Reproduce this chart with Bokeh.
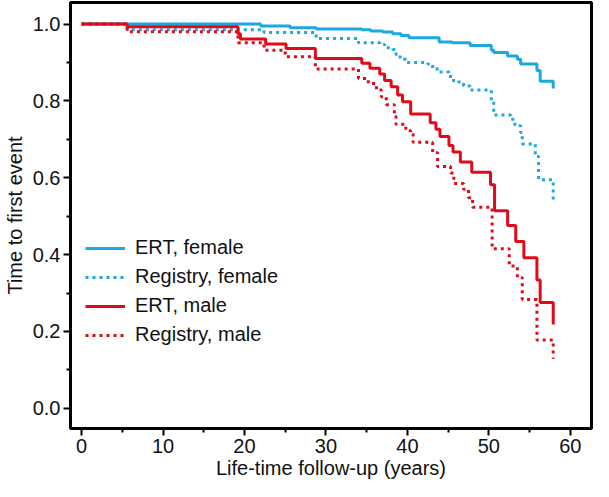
from bokeh.plotting import figure
from bokeh.models import Range1d, FixedTicker, PrintfTickFormatter, Legend, LegendItem, LinearAxis
from bokeh.embed import file_html
from bokeh.resources import INLINE

# ---- data ----
ert_female_t = [0, 22.0, 25.6, 28.8, 34.4, 35.5, 37.0, 38.2, 39.2, 40.2, 43.9, 45.5, 47.7,
                50.3, 50.6, 52.3, 53.5, 53.9, 55.9, 56.3, 57.9]
ert_female_s = [1.0, 0.995, 0.99, 0.987, 0.985, 0.982, 0.979, 0.975, 0.970, 0.964, 0.953, 0.951, 0.944,
                0.932, 0.926, 0.917, 0.908, 0.896, 0.879, 0.851, 0.832]

reg_female_t = [0, 5.6, 22.4, 28.8, 34.0, 36.6, 37.2, 38.2, 38.6, 39.1, 39.8, 42.5, 43.1, 43.9,
                45.1, 45.3, 46.3, 46.9, 47.7, 50.3, 50.6, 52.7, 53.2, 53.9, 54.1, 55.7, 56.1, 57.9]
reg_female_s = [1.0, 0.985, 0.978, 0.962, 0.951, 0.947, 0.938, 0.934, 0.921, 0.908, 0.900, 0.896, 0.883, 0.875,
                0.870, 0.853, 0.849, 0.839, 0.828, 0.80, 0.763, 0.752, 0.735, 0.718, 0.688, 0.655, 0.595, 0.54]

ert_male_t = [0, 5.6, 19.2, 19.5, 22.6, 25.1, 28.7, 34.4, 35.4, 36.6, 37.2, 38.0, 38.8, 39.4, 40.4,
              42.8, 43.5, 44.0, 45.1, 45.6, 46.5, 47.9, 50.2, 50.7, 52.3, 53.3, 54.3, 55.9, 56.3, 57.9]
ert_male_s = [1.0, 0.993, 0.975, 0.961, 0.948, 0.936, 0.910, 0.898, 0.885, 0.870, 0.853, 0.837, 0.815, 0.798, 0.766,
              0.743, 0.726, 0.707, 0.684, 0.667, 0.641, 0.614, 0.582, 0.514, 0.476, 0.434, 0.392, 0.334, 0.275, 0.218]

reg_male_t = [0, 5.6, 19.2, 22.4, 25.0, 28.7, 34.0, 35.2, 36.2, 36.8, 37.4, 38.4, 38.6, 39.8, 40.4,
              40.7, 43.1, 43.7, 45.3, 45.7, 46.9, 47.5, 48.0, 50.4, 52.5, 53.5, 54.1, 55.9, 57.9]
reg_male_s = [1.0, 0.980, 0.951, 0.932, 0.915, 0.883, 0.858, 0.845, 0.828, 0.811, 0.790, 0.760, 0.739, 0.722, 0.713,
              0.692, 0.665, 0.629, 0.612, 0.585, 0.570, 0.548, 0.523, 0.415, 0.370, 0.340, 0.283, 0.178, 0.129]

x_ticks = [0, 10, 20, 30, 40, 50, 60]
x_minor = [5, 15, 25, 35, 45, 55]
y_ticks = [0.0, 0.2, 0.4, 0.6, 0.8, 1.0]
y_minor = [0.1, 0.3, 0.5, 0.7, 0.9]

labels = ["ERT, female", "Registry, female", "ERT, male", "Registry, male"]

BLUE = "#1ca8e0"
RED = "#e00a18"
FONT = "Liberation Sans"
FS = "20px"

p = figure(width=593, height=481, output_backend="svg", toolbar_location=None,
           x_range=Range1d(-1.36, 62.6), y_range=Range1d(-0.0526, 1.056),
           min_border_left=66, min_border_right=2, min_border_top=2, min_border_bottom=50)

p.grid.visible = False
p.background_fill_color = "white"
p.border_fill_color = "white"
p.outline_line_color = "black"
p.outline_line_width = 3

xax = p.xaxis[0]
yax = p.yaxis[0]

r_ef = p.step(ert_female_t, ert_female_s, mode="after", line_width=3, line_color=BLUE)
r_rf = p.step(reg_female_t, reg_female_s, mode="after", line_width=3, line_color=BLUE, line_dash="3 4")
r_rm = p.step(reg_male_t, reg_male_s, mode="after", line_width=3, line_color=RED, line_dash="3 4")
r_em = p.step(ert_male_t, ert_male_s, mode="after", line_width=3, line_color=RED)

# frame box: plain axes above and right, without ticks or labels
for side in ("above", "right"):
    ax = LinearAxis(ticker=FixedTicker(ticks=[]), axis_line_color="black", axis_line_width=3,
                    major_tick_line_color=None, minor_tick_line_color=None,
                    major_label_text_font_size="0px", major_tick_in=0, major_tick_out=0,
                    minor_tick_in=0, minor_tick_out=0, major_label_standoff=0)
    p.add_layout(ax, side)

legend = Legend(items=[LegendItem(label=labels[0], renderers=[r_ef]),
                       LegendItem(label=labels[1], renderers=[r_rf]),
                       LegendItem(label=labels[2], renderers=[r_em]),
                       LegendItem(label=labels[3], renderers=[r_rm])],
                location=(15, 82), padding=0, margin=0, spacing=6,
                glyph_width=40, glyph_height=22, label_height=22, label_standoff=10,
                label_text_font=FONT, label_text_font_size=FS, label_text_color="#111111",
                border_line_color=None, background_fill_alpha=0)
p.add_layout(legend, "center")

xax.ticker = FixedTicker(ticks=x_ticks, minor_ticks=x_minor)
yax.ticker = FixedTicker(ticks=y_ticks, minor_ticks=y_minor)
yax.formatter = PrintfTickFormatter(format="%.1f")
xax.formatter = PrintfTickFormatter(format="%d")

for ax in (xax, yax):
    ax.axis_line_color = "black"
    ax.axis_line_width = 3
    ax.major_tick_in = 0
    ax.major_tick_out = 7
    ax.minor_tick_in = 0
    ax.minor_tick_out = 4
    ax.major_tick_line_width = 2
    ax.minor_tick_line_width = 2
    ax.major_tick_line_color = "black"
    ax.minor_tick_line_color = "black"
    ax.major_label_text_font = FONT
    ax.major_label_text_font_size = FS
    ax.major_label_text_color = "#111111"
    ax.axis_label_text_font = FONT
    ax.axis_label_text_font_size = FS
    ax.axis_label_text_font_style = "normal"
    ax.axis_label_text_color = "#111111"

xax.axis_label = "Life-time follow-up (years)"
yax.axis_label = "Time to first event"
xax.major_label_standoff = 3
xax.axis_label_standoff = 1
yax.major_label_standoff = 3
yax.axis_label_standoff = 4

open("out.html", "w").write(file_html(p, INLINE))
